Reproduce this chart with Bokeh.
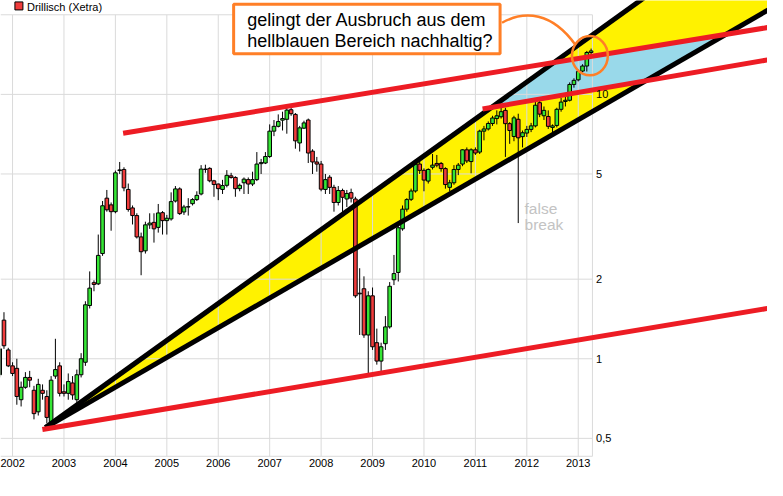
import numpy as np
import pandas as pd
from bokeh.plotting import figure
from bokeh.models import Range1d, FixedTicker
from bokeh.core.properties import value
from bokeh.embed import file_html
from bokeh.resources import INLINE

# ---------------- data: Drillisch (Xetra), monthly candles Oct 2001 .. Apr 2013 -------------
first_month = "2001-10-01"
opens = [0.87, 1.40, 1.08,
         0.94, 0.92, 0.70, 0.78, 0.85, 0.76, 0.63, 0.76, 0.72, 0.56, 0.86, 0.94,
         0.75, 0.74, 0.81, 0.70, 0.87, 0.97, 1.59, 1.94, 1.92, 2.50, 4.05, 3.82,
         3.60, 5.15, 5.20, 4.37, 3.72, 3.48, 2.89, 2.56, 3.21, 3.28, 3.14, 3.57,
         3.33, 3.38, 3.95, 4.39, 3.59, 3.75, 3.86, 4.00, 4.20, 5.22, 5.25, 4.71,
         4.58, 4.37, 4.53, 4.92, 4.85, 4.40, 4.63, 4.76, 4.58, 4.76, 5.47, 5.50,
         5.82, 7.26, 7.57, 7.99, 8.05, 8.75, 8.40, 6.55, 7.45, 8.00, 6.10, 5.55,
         5.45, 4.37, 4.86, 4.45, 3.90, 4.33, 4.02, 4.25, 4.02, 1.77, 1.84, 1.23,
         1.73, 1.15, 0.98, 1.14, 1.32, 1.99, 2.12, 3.10, 3.68, 4.01, 4.31, 5.45,
         5.16, 4.70, 5.30, 5.48, 5.48, 5.24, 4.45, 4.63, 5.20, 5.45, 6.17, 5.57,
         6.17, 6.05, 7.26, 7.40, 7.76, 8.10, 8.23, 8.70, 7.75, 6.93, 8.05, 6.92,
         7.14, 7.37, 7.60, 9.30, 8.30, 8.25, 7.50, 7.63, 8.78, 9.40, 9.50, 10.90,
         11.35, 12.25, 12.80, 14.40]
highs = [1.12, 1.50, 1.10,
         0.97, 1.00, 0.82, 0.89, 0.90, 0.79, 0.84, 0.80, 0.76, 0.86, 1.19, 0.97,
         0.80, 0.88, 0.86, 0.91, 1.05, 1.65, 2.14, 1.98, 2.95, 3.95, 4.35, 3.90,
         5.15, 5.55, 5.30, 4.60, 3.80, 3.55, 3.00, 3.30, 3.55, 3.55, 3.85, 3.62,
         3.50, 4.26, 4.50, 4.45, 3.82, 4.05, 4.05, 4.30, 5.40, 5.42, 5.30, 4.75,
         4.60, 4.75, 5.17, 5.05, 4.90, 4.60, 4.85, 4.85, 5.10, 6.05, 5.70, 6.05,
         7.70, 8.00, 8.40, 8.60, 9.15, 8.90, 8.50, 7.60, 7.95, 8.10, 6.20, 5.80,
         5.60, 5.00, 4.95, 4.55, 4.50, 4.40, 4.35, 4.40, 4.10, 2.20, 2.05, 1.80,
         1.86, 1.30, 1.15, 1.45, 1.95, 2.47, 3.20, 3.80, 4.05, 4.40, 5.68, 5.68,
         5.25, 5.25, 5.95, 5.90, 5.55, 5.30, 4.75, 5.40, 5.50, 6.20, 6.30, 6.25,
         6.30, 7.35, 7.60, 7.90, 8.30, 8.70, 8.90, 8.90, 7.85, 8.30, 8.45, 7.30,
         7.60, 7.80, 9.40, 9.60, 9.00, 8.70, 7.70, 8.90, 9.70, 9.90, 11.10, 11.50,
         12.40, 13.00, 14.60, 14.90]
lows = [0.85, 1.09, 0.93,
        0.86, 0.67, 0.66, 0.77, 0.78, 0.59, 0.61, 0.70, 0.57, 0.545, 0.84, 0.72,
        0.72, 0.70, 0.70, 0.68, 0.85, 0.94, 1.55, 1.80, 1.90, 2.45, 3.60, 3.05,
        3.55, 5.00, 4.30, 3.60, 3.22, 2.85, 2.07, 2.50, 3.10, 2.75, 3.00, 2.95,
        2.95, 3.33, 3.90, 3.50, 3.50, 3.48, 3.80, 3.95, 4.15, 5.05, 4.65, 4.10,
        3.98, 4.20, 4.45, 4.80, 4.10, 4.30, 4.20, 4.20, 4.50, 4.70, 5.00, 5.45,
        5.75, 6.95, 7.50, 7.30, 7.10, 8.30, 6.23, 6.08, 7.40, 5.50, 5.00, 5.10,
        4.30, 4.20, 4.20, 3.60, 3.80, 3.50, 3.75, 3.90, 1.70, 1.23, 1.20, 0.88,
        1.08, 0.95, 0.89, 1.08, 1.30, 1.90, 1.96, 3.05, 3.60, 3.95, 4.25, 5.00,
        4.30, 4.60, 5.20, 5.30, 5.10, 4.40, 4.30, 4.55, 4.95, 5.35, 5.50, 5.03,
        5.90, 5.95, 6.70, 7.30, 7.60, 7.70, 8.10, 5.80, 6.50, 6.65, 3.26, 6.30,
        6.90, 7.20, 7.50, 8.20, 8.00, 7.40, 7.00, 7.50, 8.60, 9.00, 9.40, 10.60,
        11.20, 12.10, 12.20, 14.10]
closes = [1.09, 1.12, 0.94,
          0.88, 0.72, 0.78, 0.85, 0.83, 0.62, 0.80, 0.74, 0.60, 0.83, 0.91, 0.74,
          0.74, 0.82, 0.73, 0.87, 1.00, 1.60, 1.85, 1.91, 2.46, 3.79, 3.66, 3.60,
          5.05, 5.18, 4.43, 3.67, 3.48, 2.89, 2.54, 3.21, 3.26, 3.10, 3.56, 3.33,
          3.40, 3.93, 4.39, 3.54, 3.75, 3.76, 4.00, 4.15, 5.22, 5.20, 4.71, 4.56,
          4.40, 4.52, 4.94, 4.85, 4.40, 4.53, 4.78, 4.58, 4.76, 5.45, 5.52, 5.82,
          7.26, 7.57, 7.89, 8.10, 8.72, 8.45, 6.67, 7.47, 7.80, 6.00, 5.55, 5.45,
          4.38, 4.76, 4.45, 3.90, 4.33, 4.08, 4.22, 4.05, 1.73, 1.76, 1.23, 1.73,
          1.11, 0.98, 1.11, 1.32, 1.88, 2.10, 3.13, 3.68, 4.00, 4.31, 5.44, 5.16,
          4.74, 5.20, 5.40, 5.40, 5.24, 4.56, 4.63, 5.20, 5.40, 6.17, 5.60, 6.17,
          6.00, 7.26, 7.40, 7.76, 8.14, 8.30, 8.60, 7.75, 7.30, 8.15, 6.85, 7.16,
          7.37, 7.60, 9.10, 8.42, 8.70, 7.57, 7.60, 8.78, 9.35, 9.50, 10.90, 11.30,
          12.20, 12.80, 14.40, 14.60]

year_ticks = list(range(2002, 2014))
price_ticks = [0.5, 1, 2, 5, 10]
price_labels = ["0,5", "1", "2", "5", "10"]
legend_label = "Drillisch (Xetra)"

# hand-drawn trend lines, (year, price) anchor pairs
black_steep = [(2002.64, 0.549), (2014.20, 22.6)]
black_flat = [(2002.64, 0.549), (2016.68, 20.8)]
red_top = [(2004.15, 7.13), (2016.68, 17.9)]
red_mid = [(2011.14, 8.81), (2016.68, 13.5)]
red_low = [(2002.58, 0.540), (2016.68, 1.55)]

callout_lines = ["gelingt der Ausbruch aus dem", "hellblauen Bereich nachhaltig?"]
note_lines = ["false", "break"]

# ---------------- styling ----------------
GREEN = "#35e635"
RED = "#f03c3c"
LINE_RED = "#ed1c24"
YELLOW = "#fff200"
BLUE = "#99d9ea"
ORANGE = "#ff7f27"
GRID = "#dadada"
FONT = value("Liberation Sans")

W, H = 767, 480
FRAME_H = 457
REF_W, REF_FRAME_H = 783.0, 472.0
X0, X1 = 2001.7657, 2016.680
Y0, Y1 = 0.4232, 22.65
frame_right = 2013.276
frame_top = 20.0
frame_bottom = 0.4277


def lx(rx):
    return X0 + rx / REF_W * (X1 - X0)


def ly(ry):
    return 10 ** (np.log10(Y1) - ry / REF_FRAME_H * (np.log10(Y1) - np.log10(Y0)))


def line_at(line, x):
    (xa, pa), (xb, pb) = line
    la, lb = np.log10(pa), np.log10(pb)
    return 10 ** (la + (x - xa) * (lb - la) / (xb - xa))


def intersect(l1, l2):
    def ab(l):
        (xa, pa), (xb, pb) = l
        b = (np.log10(pb) - np.log10(pa)) / (xb - xa)
        return np.log10(pa) - b * xa, b
    a1, b1 = ab(l1)
    a2, b2 = ab(l2)
    x = (a2 - a1) / (b1 - b2)
    return x, 10 ** (a1 + b1 * x)


o = np.array(opens)
h = np.array(highs)
l = np.array(lows)
c = np.array(closes)
dates = pd.date_range(first_month, periods=len(opens), freq="MS")
xs = np.array(dates.year + (dates.month - 1) / 12.0, dtype=float)

p = figure(width=W, height=H, x_range=Range1d(X0, X1), y_range=Range1d(Y0, Y1),
           y_axis_type="log", y_axis_location=None, x_axis_location="below",
           toolbar_location=None, output_backend="svg",
           min_border_left=0, min_border_right=0, min_border_top=0,
           min_border_bottom=H - FRAME_H)
p.grid.visible = False
p.outline_line_color = None
p.background_fill_color = "white"
p.border_fill_color = "white"

ax = p.xaxis[0]
ax.ticker = FixedTicker(ticks=year_ticks)
ax.axis_line_color = None
ax.major_tick_line_color = None
ax.minor_tick_line_color = None
ax.major_tick_out = 0
ax.major_tick_in = 0
ax.major_label_standoff = 1
ax.major_label_text_font = "Liberation Sans"
ax.major_label_text_font_size = "11px"
ax.major_label_text_color = "black"

# yellow wedge between the two black lines
x_far = X1 + 1.0
p.patch([black_steep[0][0], x_far, x_far],
        [black_steep[0][1], line_at(black_steep, x_far), line_at(black_flat, x_far)],
        fill_color=YELLOW, line_color=None)

# light-blue zone: inside the wedge and between the two upper red lines
q = [intersect(black_steep, red_mid), intersect(black_steep, red_top),
     intersect(black_flat, red_top), intersect(black_flat, red_mid)]
p.patch([v[0] for v in q], [v[1] for v in q], fill_color=BLUE, line_color=None)

# chart frame and grid
p.segment(x0=year_ticks, y0=[frame_bottom] * len(year_ticks),
          x1=year_ticks, y1=[frame_top] * len(year_ticks), line_color=GRID, line_width=1)
hy = price_ticks + [frame_top, frame_bottom]
p.segment(x0=[X0] * len(hy), y0=hy, x1=[frame_right] * len(hy), y1=hy,
          line_color=GRID, line_width=1)
p.segment(x0=[frame_right], y0=[frame_bottom], x1=[frame_right], y1=[frame_top],
          line_color=GRID, line_width=1)

# candles
p.segment(x0=xs, y0=l, x1=xs, y1=h, line_color="black", line_width=1)
up = c >= o
bw = 0.07
p.vbar(x=xs[up], width=bw, top=c[up], bottom=o[up], fill_color=GREEN,
       line_color="black", line_width=1)
p.vbar(x=xs[~up], width=bw, top=o[~up], bottom=c[~up], fill_color=RED,
       line_color="black", line_width=1)

# trend lines
for ln in (black_steep, black_flat):
    xe = X1 + 0.3
    p.line([ln[0][0], xe], [ln[0][1], line_at(ln, xe)], line_color="black", line_width=5)
for ln in (red_top, red_mid, red_low):
    xe = X1 + 0.3
    p.line([ln[0][0], xe], [ln[0][1], line_at(ln, xe)], line_color=LINE_RED, line_width=5)

# price labels at the right edge of the chart frame
p.text(x=[lx(608)] * len(price_ticks), y=price_ticks, text=price_labels,
       text_font=FONT, text_font_size="11px", text_color="black",
       text_align="left", text_baseline="middle")

# legend
p.scatter(x=[lx(18.8)], y=[ly(5.6)], marker="square", size=8, fill_color=RED,
          line_color="black", line_width=1)
p.text(x=[lx(27)], y=[ly(6.2)], text=[legend_label], text_font=FONT,
       text_font_size="11px", text_color="black", text_align="left", text_baseline="middle")

# "false break" note
p.text(x=[lx(535)] * 2, y=[ly(214.5), ly(231.5)], text=note_lines, text_font=FONT,
       text_font_size="15.5px", text_color="#c3c3c3", text_align="left",
       text_baseline="middle")

# callout
p.rect(x=[lx(374)], y=[ly(29.5)], width=272 * W / REF_W, height=51 * FRAME_H / REF_FRAME_H,
       width_units="screen", height_units="screen", fill_color="white",
       line_color=ORANGE, line_width=3)
p.text(x=[lx(252)] * 2, y=[ly(20.5), ly(42)], text=callout_lines, text_font=FONT,
       text_font_size="18px", text_color="black", text_align="left",
       text_baseline="middle")
p.bezier(x0=[lx(512)], y0=[ly(23)], x1=[lx(587)], y1=[ly(46)],
         cx0=[lx(535)], cy0=[ly(10)], cx1=[lx(563)], cy1=[ly(12)],
         line_color=ORANGE, line_width=2.5)
p.ellipse(x=[lx(601.7)], y=[ly(57)], width=36.6 * W / REF_W,
          height=40.6 * FRAME_H / REF_FRAME_H, width_units="screen", height_units="screen",
          fill_color=None, line_color=ORANGE, line_width=2.5)

open("out.html", "w").write(file_html(p, INLINE))
